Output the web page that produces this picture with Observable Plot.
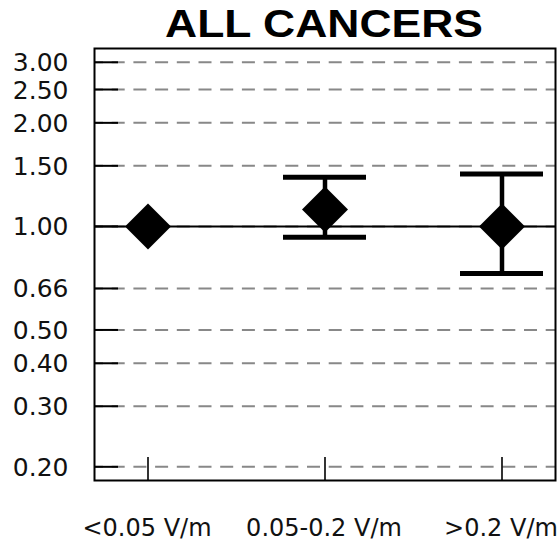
<!DOCTYPE html>
<html>
<head>
<meta charset="utf-8">
<script src="https://cdn.jsdelivr.net/npm/d3@7"></script>
<script src="https://cdn.jsdelivr.net/npm/@observablehq/plot@0.6"></script>
<style>
  html, body { margin: 0; padding: 0; background: #fff; overflow: hidden; }
  #wrap { position: relative; width: 559px; height: 546px; }
  #title {
    position: absolute; left: 0; top: 5px; width: 648px;
    text-align: center; white-space: nowrap;
    font-family: "Liberation Sans", Arial, sans-serif; font-weight: bold;
    font-size: 38px; line-height: 38px; color: #000;
    transform: scaleX(1.17); transform-origin: 324px 0;
  }
  #chart { position: absolute; left: 0; top: 0; }
</style>
</head>
<body>
<div id="wrap">
  <div id="chart"></div>
  <div id="title">ALL CANCERS</div>
</div>
<script>
// Exposure categories and relative risks with 95% confidence limits
const categories = ["<0.05 V/m", "0.05-0.2 V/m", ">0.2 V/m"];
const rr = [1.00, 1.12, 1.00];
const lower = [null, 0.93, 0.73];
const upper = [null, 1.39, 1.42];

// Log-scale tick values and their printed labels
const yTicks = [0.20, 0.30, 0.40, 0.50, 0.66, 1.00, 1.50, 2.00, 2.50, 3.00];
const yTickLabels = ["0.20", "0.30", "0.40", "0.50", "0.66", "1.00", "1.50", "2.00", "2.50", "3.00"];

const rows = categories.map((c, i) => ({cat: c, rr: rr[i], lo: lower[i], hi: upper[i]}));
const ci = rows.filter(d => d.lo != null);

// Square diamond (rotated square) symbol; half-diagonal equals r
const diamond = {
  draw(ctx, size) {
    const r = Math.sqrt(size / Math.PI);
    ctx.moveTo(0, -r);
    ctx.lineTo(r, 0);
    ctx.lineTo(0, r);
    ctx.lineTo(-r, 0);
    ctx.closePath();
  }
};

const chart = Plot.plot({
  width: 559,
  height: 546,
  marginLeft: 94,
  marginRight: 4,
  marginTop: 48,
  marginBottom: 66,
  style: {fontFamily: "DejaVu Sans", fontSize: "25px", color: "#111", background: "transparent"},
  x: {type: "band", domain: categories, paddingInner: 0.532, paddingOuter: 0.066, axis: null},
  y: {type: "log", domain: [0.1825, 3.29], axis: null},
  marks: [
    // dashed horizontal gridlines
    Plot.ruleY(yTicks, {y: d => d, stroke: "#888", strokeWidth: 2, strokeDasharray: "13,8.7", strokeDashoffset: 4}),
    // short solid inward ticks on the left edge
    Plot.tickY(yTicks, {y: d => d, stroke: "#000", strokeWidth: 2, insetRight: 437}),
    // short inward ticks on the bottom edge
    Plot.tickX(categories, {x: d => d, stroke: "#000", strokeWidth: 1.6, insetTop: 409}),
    // reference line at RR = 1
    Plot.ruleY([1], {stroke: "#000", strokeWidth: 2}),
    Plot.frame({stroke: "#000", strokeWidth: 2}),
    // confidence intervals
    Plot.ruleX(ci, {x: "cat", y1: "lo", y2: "hi", stroke: "#000", strokeWidth: 4.5}),
    Plot.tickY(ci, {x: "cat", y: "lo", stroke: "#000", strokeWidth: 5}),
    Plot.tickY(ci, {x: "cat", y: "hi", stroke: "#000", strokeWidth: 5}),
    // point estimates
    Plot.dot(rows, {x: "cat", y: "rr", symbol: diamond, r: 23, fill: "#000", stroke: "none"}),
    // axis labels
    Plot.text(yTicks, {y: d => d, text: (d, i) => yTickLabels[i], frameAnchor: "left", textAnchor: "end", dx: -26, dy: 1}),
    Plot.text(categories, {x: d => d, text: d => d, frameAnchor: "bottom", dy: 55, dx: -1, fontSize: 24})
  ]
});

document.getElementById("chart").appendChild(chart);
</script>
</body>
</html>
